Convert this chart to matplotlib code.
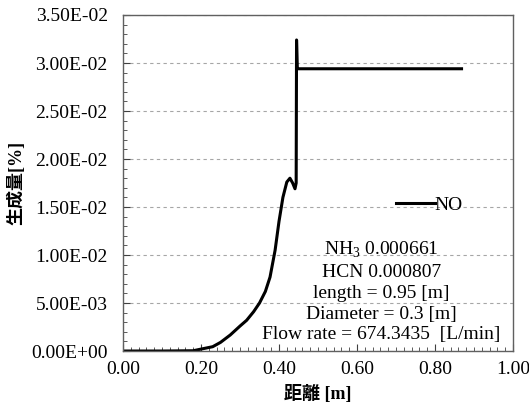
import matplotlib
matplotlib.use("Agg")
import matplotlib.pyplot as plt
from matplotlib.ticker import MultipleLocator, FuncFormatter

plt.rcParams['font.family'] = ['Liberation Serif', 'Noto Sans CJK JP']
plt.rcParams['mathtext.fontset'] = 'custom'
plt.rcParams['mathtext.rm'] = 'Liberation Serif'

# NO production along the tube
distance = [0.00, 0.10, 0.18, 0.20, 0.23, 0.25, 0.275, 0.30, 0.317, 0.335, 0.35,
            0.365, 0.377, 0.39, 0.40, 0.41, 0.42, 0.428, 0.435, 0.441, 0.444,
            0.445, 0.447, 0.45, 0.60, 0.868]
no_frac = [0.0, 0.0, 0.00003, 0.0002, 0.00045, 0.0009, 0.00167, 0.0026, 0.0032,
           0.0041, 0.0050, 0.0062, 0.0077, 0.0105, 0.0135, 0.0160, 0.0176,
           0.0180, 0.0175, 0.0169, 0.0175, 0.0324, 0.0294, 0.0294, 0.0294, 0.0294]

info_lines = ["NH$_3$ 0.000661", "HCN 0.000807", "length = 0.95 [m]",
              "Diameter = 0.3 [m]", "Flow rate = 674.3435  [L/min]"]

fig = plt.figure(figsize=(5.29, 4.12), dpi=100)
ax = fig.add_axes([0.2325, 0.148, 0.7373, 0.8156])

ax.plot(distance, no_frac, color='black', linewidth=2.2, label='NO')

ax.set_xlim(0, 1.0)
ax.set_ylim(0, 0.035)
ax.xaxis.set_major_locator(MultipleLocator(0.2))
ax.xaxis.set_minor_locator(MultipleLocator(0.02))
ax.yaxis.set_major_locator(MultipleLocator(0.005))
ax.yaxis.set_minor_locator(MultipleLocator(0.001))
ax.xaxis.set_major_formatter(FuncFormatter(lambda v, p: f"{v:.2f}"))
ax.yaxis.set_major_formatter(FuncFormatter(lambda v, p: f"{v:.2E}"))
ax.tick_params(which='both', direction='in', labelsize=14, color='#404040')
ax.tick_params(which='major', length=5)
ax.tick_params(which='minor', length=3)
ax.tick_params(axis='x', pad=7)
ax.tick_params(axis='y', pad=11)
ax.tick_params(top=False, right=False, which='both')
for s in ax.spines.values():
    s.set_color('#606060')
    s.set_linewidth(1.0)

ax.yaxis.grid(True, linestyle=(0, (3, 3)), color='#a6a6a6', linewidth=0.8)
ax.set_axisbelow(True)

ax.set_xlabel("距離 [m]", fontsize=13, fontweight='bold', labelpad=5)
ax.set_ylabel("生成量[%]", fontsize=13, fontweight='bold', labelpad=4)

ax.legend(loc='center left', bbox_to_anchor=(0.68, 0.4345), frameon=False,
          fontsize=14, handlelength=2.0, handletextpad=0.0, borderaxespad=0)

ax.text(0.662, 0.0008, "\n".join(info_lines), ha='center', va='bottom',
        fontsize=14, linespacing=1.29)

fig.savefig("out.png", dpi=100)
